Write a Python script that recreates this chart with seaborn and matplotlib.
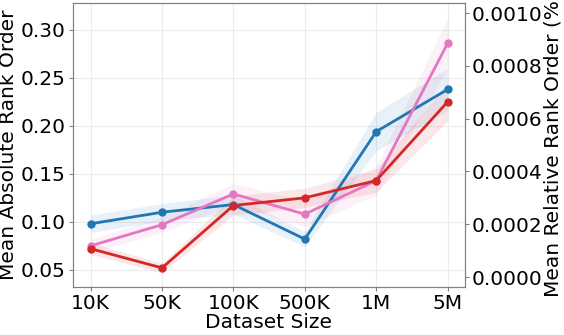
import numpy as np
import pandas as pd
import matplotlib
matplotlib.use("Agg")
import matplotlib.pyplot as plt
import seaborn as sns

# values
sizes = ["10K", "50K", "100K", "500K", "1M", "5M"]
series_names = ["blue", "pink", "red"]
colors = ["#1f77b4", "#e377c2", "#d62728"]

blue_vals = [0.098, 0.110, 0.118, 0.082, 0.194, 0.238]
pink_vals = [0.075, 0.097, 0.129, 0.108, 0.143, 0.286]
red_vals = [0.072, 0.052, 0.117, 0.125, 0.143, 0.225]

# half-width of the shaded bands
blue_err = [0.009, 0.009, 0.010, 0.008, 0.020, 0.022]
pink_err = [0.007, 0.008, 0.011, 0.013, 0.015, 0.026]
red_err = [0.006, 0.005, 0.010, 0.010, 0.012, 0.020]

left_ticks = [0.05, 0.10, 0.15, 0.20, 0.25, 0.30]
right_ticks = [0.0000, 0.0002, 0.0004, 0.0006, 0.0008, 0.0010]

all_vals = [blue_vals, pink_vals, red_vals]
all_errs = [blue_err, pink_err, red_err]

rows = []
for name, vals in zip(series_names, all_vals):
    for s, v in zip(sizes, vals):
        rows.append({"Dataset Size": s, "value": v, "series": name})
df = pd.DataFrame(rows)

sns.set_style("whitegrid", {"grid.color": "#ebebeb", "axes.edgecolor": "#808080",
                            "text.color": "black", "axes.labelcolor": "black",
                            "xtick.color": "black", "ytick.color": "black"})
plt.rcParams["font.family"] = ["DejaVu Sans"]

fs = 14.5
fig, ax = plt.subplots(figsize=(5.64, 3.35), dpi=100)
fig.subplots_adjust(left=0.129, right=0.824, top=0.991, bottom=0.143)

x_pos = np.arange(len(sizes))
for name, vals, errs, c in zip(series_names, all_vals, all_errs, colors):
    lo = np.array(vals) - np.array(errs)
    hi = np.array(vals) + np.array(errs)
    ax.fill_between(x_pos, lo, hi, color=c, alpha=0.1, linewidth=0)

sns.lineplot(data=df, x="Dataset Size", y="value", hue="series",
             palette=dict(zip(series_names, colors)), marker="o",
             markersize=6, markeredgewidth=0, linewidth=2,
             sort=False, legend=False, ax=ax)

ax.set_xlim(-0.25, len(sizes) - 0.76)
ax.set_ylim(0.032, 0.328)
ax.set_yticks(left_ticks)
ax.set_yticklabels([f"{t:.2f}" for t in left_ticks])
ax.set_xticks(x_pos)
ax.set_xticklabels(sizes)
ax.set_xlabel("Dataset Size", fontsize=fs, labelpad=0)
ax.set_ylabel("Mean Absolute Rank Order", fontsize=fs, labelpad=2)
ax.tick_params(axis="both", labelsize=fs, length=3, color="#808080", pad=2)
ax.tick_params(axis="x", bottom=True)
ax.tick_params(axis="y", left=True)

ax2 = ax.twinx()
ax2.set_ylim(-0.000038, 0.001038)
ax2.set_yticks(right_ticks)
ax2.set_yticklabels([f"{t:.4f}" for t in right_ticks])
ax2.grid(False)
ax2.set_ylabel("Mean Relative Rank Order (%)", fontsize=fs, labelpad=1)
ax2.tick_params(axis="y", labelsize=fs, length=3, color="#808080", pad=2, right=True)

fig.savefig("out.png", dpi=100)
